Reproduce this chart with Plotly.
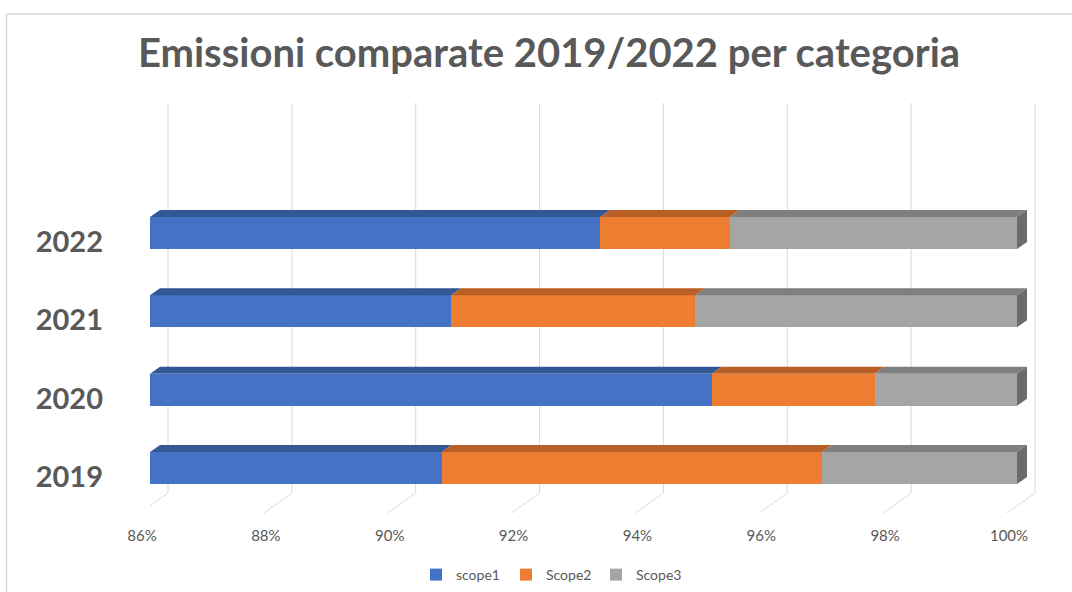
import plotly.graph_objects as go

# Share of emissions by scope, per year (percent of total)
years = ["2019", "2020", "2021", "2022"]
scope1 = [90.71, 95.07, 90.86, 93.27]
scope2 = [6.14, 2.63, 3.94, 2.09]
scope3 = [3.15, 2.30, 5.20, 4.64]
series_names = ["scope1", "Scope2", "Scope3"]
x_ticks = [86, 88, 90, 92, 94, 96, 98, 100]
x_tick_labels = ["86%", "88%", "90%", "92%", "94%", "96%", "98%", "100%"]

# Colours: front face, top face, side face
front_colors = ["#4472C4", "#ED7D31", "#A5A5A5"]
top_colors = ["#335896", "#B75F24", "#7F7F7F"]
side_color = "#6B6B6B"
text_color = "#595959"
grid_color = "#D9D9D9"

# Page and plot-area geometry (pixels)
W, H = 1072, 592
PLOT_L, PLOT_R, PLOT_T, PLOT_B = 150, 1045, 103, 513
X_LO, X_END = 86, 100
END_PX = 1017                      # where 100% lands on the front plane
ROW0_PX, ROW_PITCH = 468, 78.33    # centre of first row, distance between rows
FACE_PX = 32                       # bar front-face thickness
DEPTH_DX, DEPTH_DY = 10, 7         # 3-D extrusion of the bars
GRID_BACK, GRID_FRONT = 18, -10    # grid offsets (back wall / front of floor)
FLOOR_BACK_PX = 493

px_per_pct = (END_PX - PLOT_L) / (X_END - X_LO)
x_range = [X_LO, X_LO + (PLOT_R - PLOT_L) / px_per_pct]
y_lo = -(PLOT_B - ROW0_PX) / ROW_PITCH
y_range = [y_lo, y_lo + (PLOT_B - PLOT_T) / ROW_PITCH]

bar_w = FACE_PX / ROW_PITCH
dx = DEPTH_DX / px_per_pct
dy = DEPTH_DY / ROW_PITCH


def paper_x(px):
    return (px - PLOT_L) / (PLOT_R - PLOT_L)


def paper_y(py):
    return (PLOT_B - py) / (PLOT_B - PLOT_T)


rows = list(range(len(years)))
series = [scope1, scope2, scope3]

fig = go.Figure()

# Front faces of the stacked bars
for name, vals, col in zip(series_names, series, front_colors):
    fig.add_trace(go.Bar(
        y=rows, x=vals, orientation="h", name=name, width=bar_w,
        marker=dict(color=col, line=dict(width=0)),
        hoverinfo="x+name",
    ))

# Top faces of every segment, plus the right-hand side face of the last one
starts = [0.0] * len(years)
for k, (vals, tcol) in enumerate(zip(series, top_colors)):
    xs, ys = [], []
    for i, v in enumerate(vals):
        a = max(starts[i], X_LO)
        b = starts[i] + v
        top = rows[i] + bar_w / 2
        xs += [a, b, b + dx, a + dx, a, None]
        ys += [top, top, top + dy, top + dy, top, None]
        starts[i] = b
    fig.add_trace(go.Scatter(
        x=xs, y=ys, mode="lines", fill="toself", fillcolor=tcol,
        line=dict(width=0), hoverinfo="skip", showlegend=False,
    ))

xs, ys = [], []
for i in rows:
    e = starts[i]
    lo, hi = rows[i] - bar_w / 2, rows[i] + bar_w / 2
    xs += [e, e + dx, e + dx, e, e, None]
    ys += [lo, lo + dy, hi + dy, hi, lo, None]
fig.add_trace(go.Scatter(
    x=xs, y=ys, mode="lines", fill="toself", fillcolor=side_color,
    line=dict(width=0), hoverinfo="skip", showlegend=False,
))

# Gridlines on the back wall and their continuation across the floor
shapes = []
floor_back = paper_y(FLOOR_BACK_PX)
for v in x_ticks:
    shapes.append(dict(type="line", xref="x", xsizemode="pixel", xanchor=v,
                       x0=GRID_BACK, x1=GRID_BACK, yref="paper",
                       y0=floor_back, y1=1, layer="below",
                       line=dict(color=grid_color, width=1)))
    shapes.append(dict(type="line", xref="x", xsizemode="pixel", xanchor=v,
                       x0=GRID_BACK, x1=GRID_FRONT, yref="paper",
                       y0=floor_back, y1=0, layer="below",
                       line=dict(color=grid_color, width=1)))

# Chart frame (top and left edges)
shapes.append(dict(type="line", xref="paper", yref="paper",
                   x0=paper_x(6), x1=paper_x(W), y0=paper_y(14), y1=paper_y(14),
                   line=dict(color=grid_color, width=1.5)))
shapes.append(dict(type="line", xref="paper", yref="paper",
                   x0=paper_x(6.5), x1=paper_x(6.5), y0=paper_y(14), y1=paper_y(H),
                   line=dict(color=grid_color, width=1.5)))

fig.update_layout(
    width=W, height=H,
    margin=dict(l=PLOT_L, r=W - PLOT_R, t=PLOT_T, b=H - PLOT_B, autoexpand=False),
    paper_bgcolor="white", plot_bgcolor="white",
    barmode="stack", bargap=0,
    title=dict(text="Emissioni comparate 2019/2022 per categoria",
               x=549 / W, xanchor="center", xref="container",
               y=1 - 53 / H, yanchor="middle", yref="container",
               font=dict(family="Lato", size=40, color=text_color, weight="bold")),
    xaxis=dict(range=x_range, tickvals=x_ticks, ticktext=x_tick_labels,
               showgrid=False, zeroline=False, showline=False, ticks="",
               ticklabelshift=-8, ticklabelstandoff=12,
               tickfont=dict(family="Lato", size=15, color=text_color),
               fixedrange=True),
    yaxis=dict(range=y_range, tickvals=rows, ticktext=years,
               showgrid=False, zeroline=False, showline=False, ticks="",
               ticklabelshift=9, ticklabelstandoff=46,
               tickfont=dict(family="Lato", size=29, color=text_color, weight="bold"),
               fixedrange=True),
    legend=dict(orientation="h", x=paper_x(551), xanchor="center",
                y=paper_y(575), yanchor="middle", traceorder="normal",
                font=dict(family="Lato", size=14, color=text_color),
                itemwidth=30, entrywidth=45),
    shapes=shapes,
    showlegend=True,
)

fig.write_html("out.html")
